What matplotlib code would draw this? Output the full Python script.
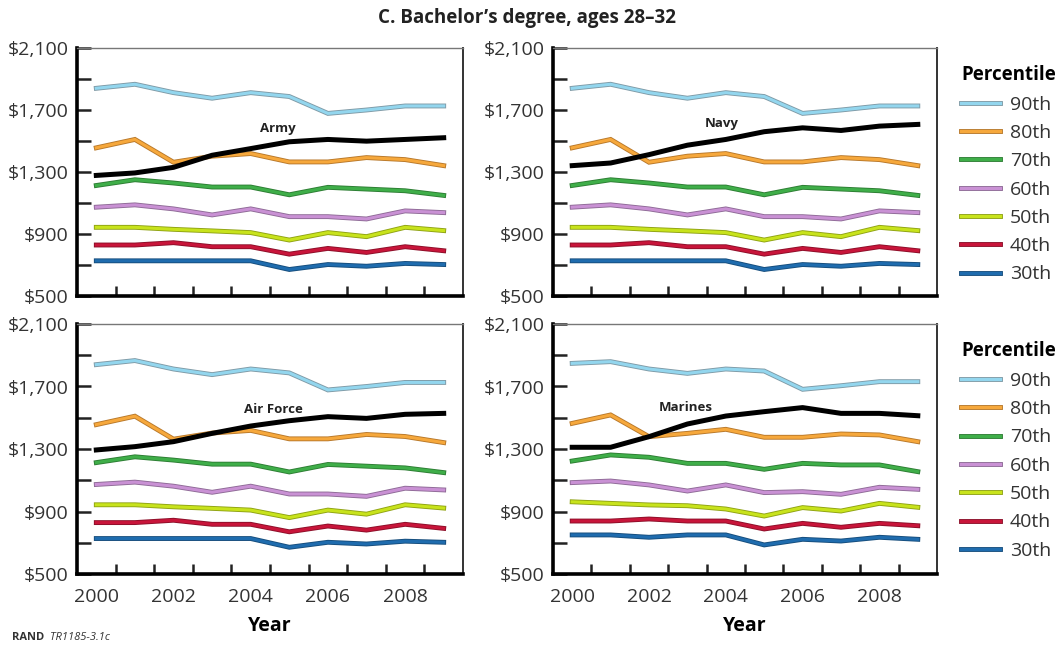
import numpy as np
import matplotlib
matplotlib.use("Agg")
import matplotlib.pyplot as plt
import matplotlib.patheffects as pe
from matplotlib.ticker import FuncFormatter, FixedLocator

plt.rcParams["font.family"] = ["Open Sans", "DejaVu Sans"]

YEARS = list(range(2000, 2010))
PCTS = ["90th", "80th", "70th", "60th", "50th", "40th", "30th"]
COLORS = ["#93d6ee", "#f6a83c", "#3fae49", "#c991d4", "#c8e31c", "#c8153a", "#1f6cae"]
EDGES = ["#7f9aa6", "#b8782a", "#2d7d33", "#8e6a96", "#8fa214", "#8c0f29", "#164d7c"]

# civilian weekly earnings percentiles (Army / Navy / Air Force panels)
P90 = [1840, 1866, 1812, 1776, 1812, 1787, 1678, 1700, 1726, 1726]
P80 = [1456, 1510, 1363, 1402, 1419, 1365, 1365, 1393, 1380, 1341]
P70 = [1213, 1250, 1229, 1203, 1203, 1153, 1201, 1190, 1179, 1149]
P60 = [1073, 1088, 1062, 1023, 1062, 1012, 1012, 997, 1049, 1038]
P50 = [943, 943, 930, 920, 909, 861, 909, 883, 943, 922]
P40 = [829, 829, 844, 818, 818, 770, 807, 781, 818, 792]
P30 = [727, 727, 727, 727, 727, 671, 703, 692, 710, 703]

# percentiles for the Marines panel
M90 = [1848, 1859, 1812, 1784, 1812, 1799, 1682, 1705, 1731, 1731]
M80 = [1464, 1518, 1379, 1400, 1426, 1375, 1375, 1396, 1390, 1347]
M70 = [1223, 1262, 1247, 1208, 1208, 1170, 1208, 1198, 1198, 1155]
M60 = [1085, 1095, 1070, 1031, 1070, 1021, 1027, 1010, 1055, 1042]
M50 = [962, 952, 942, 937, 916, 871, 925, 903, 952, 927]
M40 = [839, 839, 852, 839, 839, 788, 824, 799, 824, 809]
M30 = [750, 750, 735, 750, 750, 686, 722, 711, 735, 722]

ARMY = [1278, 1294, 1330, 1408, 1451, 1495, 1510, 1499, 1510, 1521]
NAVY = [1341, 1358, 1412, 1473, 1510, 1560, 1585, 1568, 1596, 1607]
AIR_FORCE = [1294, 1315, 1347, 1400, 1447, 1481, 1507, 1496, 1522, 1528]
MARINES = [1311, 1311, 1379, 1460, 1511, 1539, 1565, 1528, 1528, 1513]

Y_MAJOR = [500, 900, 1300, 1700, 2100]
Y_MINOR = [700, 1100, 1500, 1900]
X_LABELS = [2000, 2002, 2004, 2006, 2008]

PANELS = [
    ("Army", ARMY, [P90, P80, P70, P60, P50, P40, P30], (2004.7, 1580)),
    ("Navy", NAVY, [P90, P80, P70, P60, P50, P40, P30], (2003.9, 1614)),
    ("Air Force", AIR_FORCE, [P90, P80, P70, P60, P50, P40, P30], (2004.6, 1555)),
    ("Marines", MARINES, [M90, M80, M70, M60, M50, M40, M30], (2002.95, 1567)),
]

W, H = 1060, 646
fig = plt.figure(figsize=(W / 100, H / 100), dpi=100)
boxes = [(77, 48, 463, 296), (553, 48, 937, 296), (77, 324, 463, 574), (553, 324, 937, 574)]

axes = []
for (x0, y0, x1, y1) in boxes:
    axes.append(fig.add_axes([x0 / W, 1 - y1 / H, (x1 - x0) / W, (y1 - y0) / H]))

money = FuncFormatter(lambda v, _: f"${v:,.0f}")

for i, (ax, (name, svc, pct, lab)) in enumerate(zip(axes, PANELS)):
    for vals, c, e, p in zip(pct, COLORS, EDGES, PCTS):
        ax.plot(YEARS, vals, color=c, lw=2.2, label=p, solid_joinstyle="miter",
                path_effects=[pe.Stroke(linewidth=3.5, foreground=e), pe.Normal()])
    ax.plot(YEARS, svc, color="black", lw=3.6, zorder=5)
    ax.text(lab[0], lab[1], name, ha="center", va="center", fontsize=9.5,
            fontweight="bold", color="#222222")

    ax.set_xlim(1999.5, 2009.5)
    ax.set_ylim(500, 2100)
    ax.yaxis.set_major_locator(FixedLocator(Y_MAJOR))
    ax.yaxis.set_minor_locator(FixedLocator(Y_MINOR))
    ax.yaxis.set_major_formatter(money)
    ax.tick_params(axis="y", which="both", direction="in", length=10, width=1.8,
                   color="#222222", labelsize=14, pad=6)
    ax.set_xticks(X_LABELS)
    ax.set_xticks(np.arange(2000.5, 2009, 1.0), minor=True)
    ax.tick_params(axis="x", which="major", length=0, labelsize=14, pad=10)
    ax.tick_params(axis="x", which="minor", direction="in", length=7, width=1.8,
                   color="#222222")
    if i < 2:
        ax.set_xticklabels([])
    else:
        ax.set_xlabel("Year", fontsize=14, fontweight="bold", labelpad=7)
    for s in ("left", "bottom"):
        ax.spines[s].set_linewidth(2.6)
        ax.spines[s].set_color("black")
    ax.spines["top"].set_linewidth(1.0)
    ax.spines["top"].set_color("#777777")
    ax.spines["right"].set_linewidth(1.4)
    ax.spines["right"].set_color("#333333")
    for t in ax.get_xticklabels() + ax.get_yticklabels():
        t.set_color("#333333")

    if i % 2 == 1:
        leg = ax.legend(loc="upper left", bbox_to_anchor=(1.063, 0.93), frameon=False,
                        title="Percentile", fontsize=14, handlelength=2.0,
                        handletextpad=0.5, labelspacing=0.53, borderaxespad=0,
                        borderpad=0)
        leg.get_title().set_fontweight("bold")
        leg.get_title().set_fontsize(13.5)
        leg._legend_box.align = "left"
        for t in leg.get_texts():
            t.set_color("#333333")

fig.text(527 / W, 1 - 18 / H, "C. Bachelor\u2019s degree, ages 28\u201332", ha="center",
         va="center", fontsize=13.5, fontweight="bold", color="#222222")
fig.text(12 / W, 1 - 637 / H, "RAND", fontsize=8, fontweight="bold", va="center",
         color="#333333")
fig.text(50 / W, 1 - 637 / H, "TR1185-3.1c", fontsize=8, style="italic", va="center",
         color="#333333")

fig.savefig("out.png", dpi=100)
